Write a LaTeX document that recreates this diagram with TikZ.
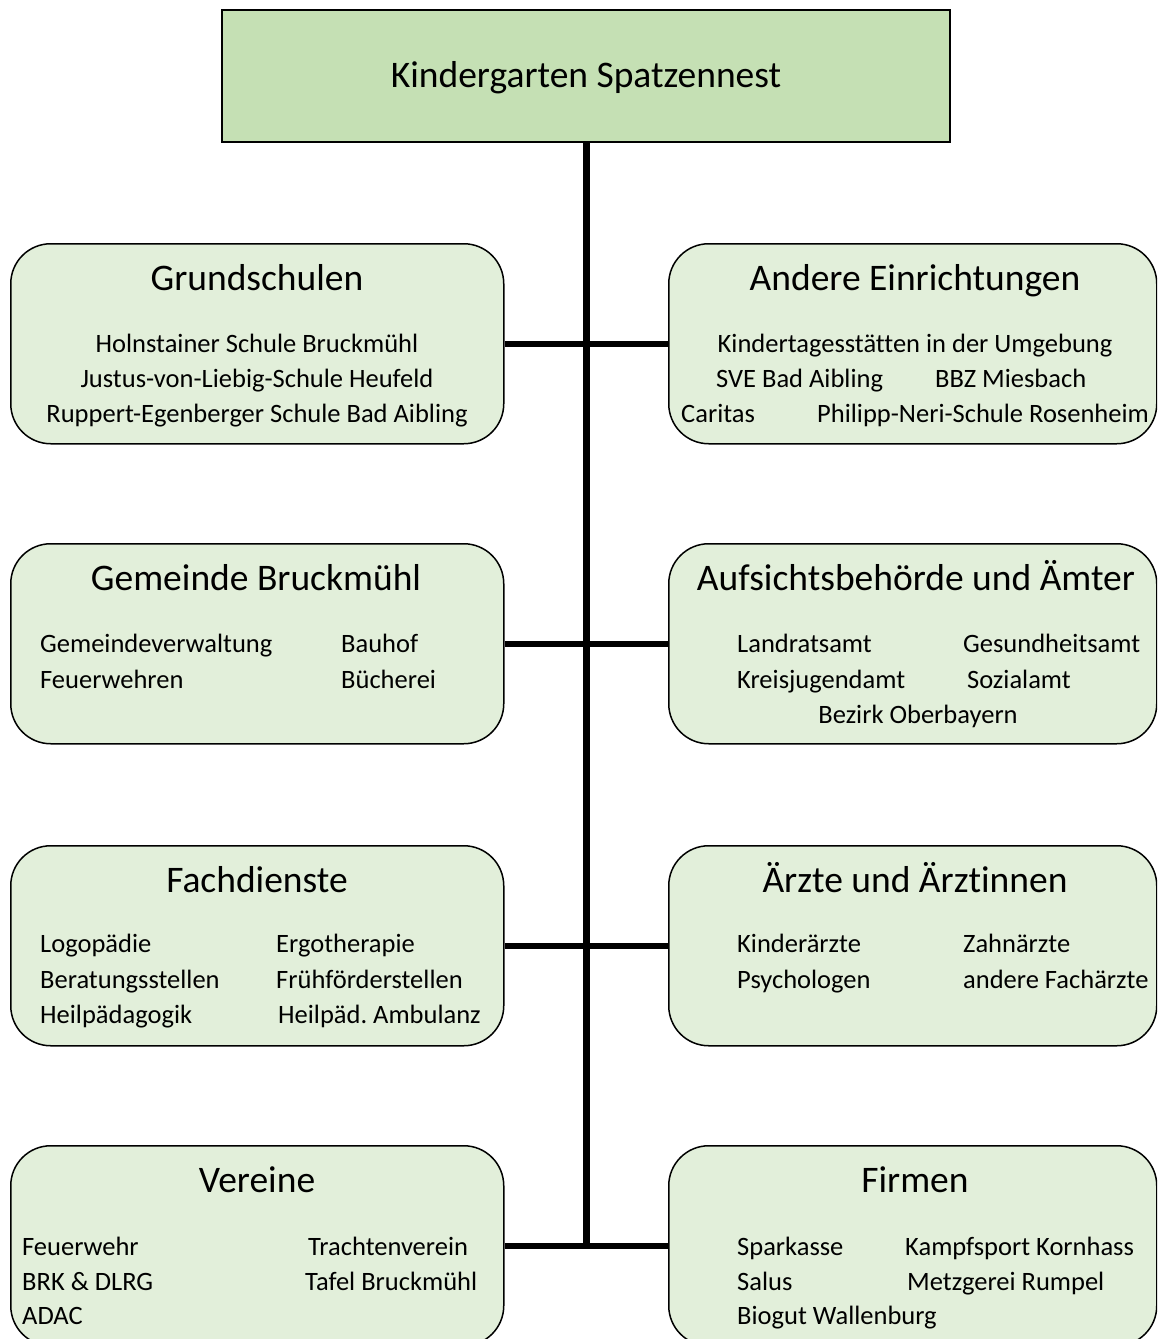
\documentclass[tikz,border=0pt]{standalone}
\usepackage{fontspec}
\setmainfont{Carlito}[Ligatures={NoCommon}]
\definecolor{hubgreen}{HTML}{C5E0B4}
\definecolor{boxgreen}{HTML}{E2EFDA}
\frenchspacing

\begin{document}
\begin{tikzpicture}[x=1pt, y=-1pt,
		hub/.style={draw, line width=1.5pt, fill=hubgreen, minimum width=728pt, minimum height=132pt, inner sep=0pt},
		group/.style={draw, line width=1.5pt, fill=boxgreen, rounded corners=40pt, minimum height=200pt, inner sep=0pt, anchor=north west},
		head/.style={anchor=base, font=\fontsize{37.5}{42}\selectfont, inner sep=0pt},
		item/.style={anchor=base west, font=\fontsize{26.5}{31}\selectfont, inner sep=0pt},
		citem/.style={item, anchor=base},
		link/.style={line width=6pt}]
	\clip (0,0) rectangle (1157,1339);

	% Kopf
	\node[hub] (kita) at (586,76) {};
	\node[head] (kitatitle) at (586,87) {Kindergarten Spatzennest};

	% Gruppen links und rechts
	\node[group, minimum width=493pt] (grund) at (10,243) {};
	\node[group, minimum width=488pt] (andere) at (668,243) {};
	\node[group, minimum width=493pt] (gemeinde) at (10,543) {};
	\node[group, minimum width=488pt] (amt) at (668,543) {};
	\node[group, minimum width=493pt] (fach) at (10,845) {};
	\node[group, minimum width=488pt] (arzt) at (668,845) {};
	\node[group, minimum width=493pt] (verein) at (10,1145) {};
	\node[group, minimum width=488pt] (firma) at (668,1145) {};

	% Verbindungen
	\coordinate (spineend) at (kita.south |- verein.east);
	\draw[line width=7pt] (kita.south) -- ([yshift=-3pt]spineend);
	\foreach \l/\r in {grund/andere, gemeinde/amt, fach/arzt, verein/firma}
		\draw[link] (\l.east) -- (\r.west);

	% Ueberschriften
	\foreach \txt/\x/\y [count=\i] in {Grundschulen/257/290, Andere Einrichtungen/915/290,
			Gemeinde Bruckmühl/256/590, Aufsichtsbehörde und Ämter/916/590,
			Fachdienste/257/892, Ärzte und Ärztinnen/915/892,
			Vereine/257/1192, Firmen/915/1192}
		\node[head] (head\i) at (\x,\y) {\txt};

	% Eintraege
	\foreach \txt/\x/\y [count=\i] in {Holnstainer Schule Bruckmühl/257/352,
			Justus-von-Liebig-Schule Heufeld/257/387,
			Ruppert-Egenberger Schule Bad Aibling/257/422,
			Kindertagesstätten in der Umgebung/915/352,
			Bezirk Oberbayern/918/723}
		\node[citem] (centry\i) at (\x,\y) {\txt};
	\foreach \txt/\x/\y [count=\i] in {SVE Bad Aibling/716/387, BBZ Miesbach/935/387,
			Caritas/681/422, Philipp-Neri-Schule Rosenheim/817/422,
			Gemeindeverwaltung/40/652, Bauhof/341/652,
			Feuerwehren/40/688, Bücherei/341/688,
			Landratsamt/737/652, Gesundheitsamt/963/652,
			Kreisjugendamt/737/688, Sozialamt/967/688,
			Logopädie/40/952, Ergotherapie/276/952,
			Beratungsstellen/40/988, Frühförderstellen/276/988,
			Heilpädagogik/40/1023, Heilpäd. Ambulanz/278/1023,
			Kinderärzte/737/952, Zahnärzte/963/952,
			Psychologen/737/988, andere Fachärzte/963/988,
			Feuerwehr/22/1255, Trachtenverein/308/1255,
			BRK \& DLRG/22/1290, Tafel Bruckmühl/305/1290,
			ADAC/22/1324,
			Sparkasse/737/1255, Kampfsport Kornhass/905/1255,
			Salus/737/1290, Metzgerei Rumpel/907/1290,
			Biogut Wallenburg/737/1324}
		\node[item] (entry\i) at (\x,\y) {\txt};
\end{tikzpicture}
\end{document}
